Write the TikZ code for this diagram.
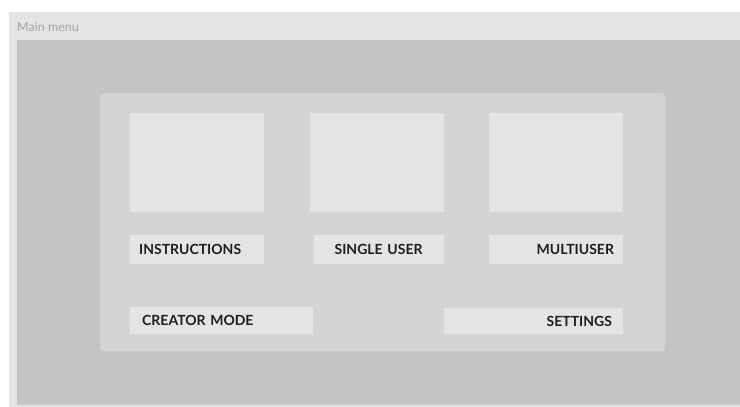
\documentclass[tikz,border=0pt]{standalone}
\usepackage{fontspec}
\setmainfont{Lato}
\usetikzlibrary{positioning}
\definecolor{framegray}{HTML}{E4E4E4}
\definecolor{backgray}{HTML}{C4C4C4}
\definecolor{panelgray}{HTML}{D4D4D4}
\definecolor{tilegray}{HTML}{E4E4E4}
\definecolor{titletext}{HTML}{A4A4A4}
\definecolor{buttontext}{HTML}{1E1E1E}
\tikzstyle{tile} = [rectangle, fill=tilegray, minimum width=134pt, minimum height=99pt, inner sep=0pt]
\tikzstyle{button} = [rectangle, fill=tilegray, minimum height=29pt, inner ysep=0pt, text=buttontext, font=\bfseries\fontsize{14}{14}\selectfont]

\begin{document}
\begin{tikzpicture}[x=1pt, y=-1pt]
		\useasboundingbox (0,0) rectangle (740,407);
		\fill [white] (0,0) rectangle (740,407);
		\fill [framegray] (9,12) rectangle (740,407);
		\fill [backgray] (17,40) rectangle (740,405);
		\node [anchor=west, inner sep=0pt, text=titletext, font=\fontsize{12.5}{12.5}\selectfont] (title) at (17,27) {Main menu};
		\node [fill=panelgray, rounded corners=3pt, minimum width=565pt, minimum height=258pt, anchor=north west, inner sep=0pt] (panel) at (100,93) {};

		\node [tile, anchor=north west] (tileA) at (130,113) {};
		\node [tile, right=45pt of tileA] (tileB) {};
		\node [tile, right=45pt of tileB] (tileC) {};

		\node [button, below=22pt of tileA, text width=116pt, inner xsep=9pt, align=left] (instructions) {INSTRUCTIONS};
		\node [button, below=22pt of tileB.south east, anchor=north east, text width=124pt, inner xsep=3pt, align=center] (single) {SINGLE USER};
		\node [button, below=22pt of tileC, text width=116pt, inner xsep=9pt, align=right] (multi) {MULTIUSER};
		\node [button, minimum height=27pt, below=43pt of instructions.south west, anchor=north west, text width=159pt, inner xsep=12pt, align=left] (creator) {CREATOR MODE};
		\node [button, minimum height=26pt, below=44pt of multi.south east, anchor=north east, text width=157pt, inner xsep=11pt, align=right] (settings) {SETTINGS};
	\end{tikzpicture}
\end{document}
